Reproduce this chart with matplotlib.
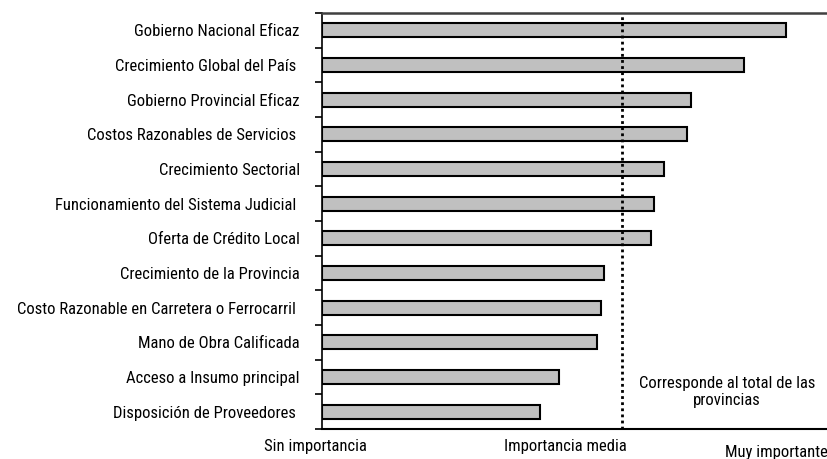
import matplotlib
matplotlib.use("Agg")
import matplotlib.pyplot as plt
from matplotlib import font_manager

# fuente angosta, la primera que este instalada
names = set(f.name for f in font_manager.fontManager.ttflist)
prefs = ["Liberation Sans Narrow", "Arial Narrow", "Roboto Condensed",
         "Archivo Narrow", "PT Sans Narrow", "Barlow Condensed", "DejaVu Sans"]
fam = [p for p in prefs if p in names][0]
plt.rcParams["font.family"] = [fam, "DejaVu Sans"]
fs = 12

#### datos
factores = ["Gobierno Nacional Eficaz", "Crecimiento Global del País ",
            "Gobierno Provincial Eficaz", "Costos Razonables de Servicios ",
            "Crecimiento Sectorial", "Funcionamiento del Sistema Judicial ",
            "Oferta de Crédito Local", "Crecimiento de la Provincia",
            "Costo Razonable en Carretera o Ferrocarril ", "Mano de Obra Calificada",
            "Acceso a Insumo principal", "Disposición de Proveedores "]
valores = [4.09, 3.81, 3.46, 3.43, 3.28, 3.21, 3.19, 2.88, 2.86, 2.83, 2.58, 2.45]
media = 3.0
escala = ["Sin importancia", "Importancia media", "Muy importante"]

W, H = 828, 459
fig = plt.figure(figsize=(W / 100, H / 100), dpi=100)
ax = fig.add_axes([322 / W, 1 - 429 / H, 1 - 322 / W, (429 - 13) / H])

n = len(factores)
ypos = list(range(n))
ax.barh(ypos, [v - 1 for v in valores], left=1, height=0.4,
        color="#c0c0c0", edgecolor="black", linewidth=1.5)
ax.set_ylim(n - 0.5, -0.5)
ax.set_xlim(1, 1 + 506 / 150)

ax.axvline(media, color="black", linestyle=(0, (1, 1.2)), linewidth=2)

# ejes
ax.spines["right"].set_visible(False)
ax.spines["top"].set_color("#404040")
ax.spines["top"].set_linewidth(1.8)
ax.spines["bottom"].set_linewidth(1.5)
ax.spines["left"].set_linewidth(1.2)
ax.set_xticks([])
ax.set_yticks([i - 0.5 for i in range(n + 1)], minor=False)
ax.set_yticklabels([])
ax.set_yticks(ypos, minor=True)
ax.set_yticklabels(factores, minor=True, fontsize=fs)
ax.tick_params(axis="y", which="major", length=5, width=1.2, direction="out")
ax.tick_params(axis="y", which="minor", length=0, pad=16)

fig.text(315 / W, 1 - 447 / H, escala[0], ha="center", va="center", fontsize=fs)
fig.text(565 / W, 1 - 447 / H, escala[1], ha="center", va="center", fontsize=fs)
fig.text(776 / W, 1 - 452 / H, escala[2], ha="center", va="center", fontsize=fs)

fig.text(727 / W, 1 - 392 / H, "Corresponde al total de las\nprovincias",
         ha="center", va="center", fontsize=fs, linespacing=1.2)

fig.savefig("out.png", dpi=100)
